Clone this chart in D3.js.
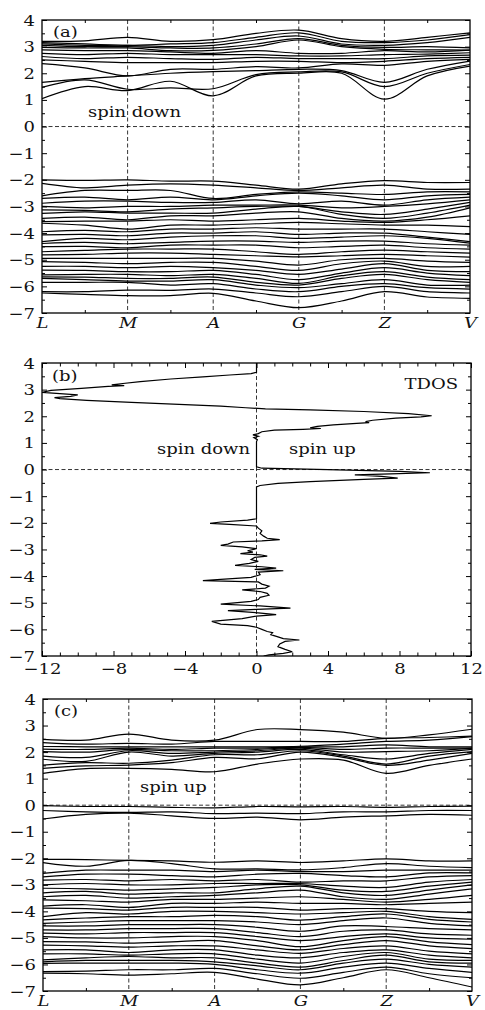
<!DOCTYPE html>
<html>
<head>
<meta charset="utf-8">
<script src="https://cdnjs.cloudflare.com/ajax/libs/d3/7.8.5/d3.min.js"></script>
<style>
  body { margin:0; background:#fff; }
</style>
</head>
<body>
<div id="chart-area"></div>
<script>
/*
*    Band structure (spin down / spin up) and total DOS
*/

// High symmetry points and k-path samples (L, LM, M, MA, A, AG, G, GZ, Z, ZV, V)
var kLabels = ["L", "M", "A", "G", "Z", "V"];
var kPath = [0, 0.5, 1, 1.5, 2, 2.5, 3, 3.5, 4, 4.5, 5];
var energyTicks = [-7, -6, -5, -4, -3, -2, -1, 0, 1, 2, 3, 4];
var dosTicks = [-12, -8, -4, 0, 4, 8, 12];

// (a) spin down, conduction bands (eV)
var downCond = [
  [1.05, 1.5, 1.35, 1.7, 1.15, 1.9, 2.0, 2.0, 1.03, 1.9, 2.27],
  [1.47, 1.75, 1.4, 1.45, 1.42, 1.95, 2.05, 2.05, 1.5, 2.0, 2.33],
  [1.66, 1.8, 1.9, 2.0, 2.06, 2.1, 2.15, 2.1, 1.66, 2.15, 2.46],
  [2.36, 2.2, 1.9, 2.15, 2.15, 2.25, 2.2, 2.35, 2.3, 2.45, 2.52],
  [2.5, 2.45, 2.4, 2.4, 2.4, 2.45, 2.45, 2.4, 2.45, 2.55, 2.6],
  [2.63, 2.55, 2.6, 2.55, 2.52, 2.6, 2.55, 2.55, 2.55, 2.65, 2.68],
  [2.75, 2.7, 2.75, 2.7, 2.7, 2.7, 2.65, 2.65, 2.7, 2.72, 2.77],
  [2.88, 2.85, 2.85, 2.8, 2.75, 2.85, 2.75, 2.75, 2.85, 2.8, 2.87],
  [2.97, 2.95, 2.95, 2.85, 2.86, 3.0, 3.25, 3.0, 2.9, 2.88, 2.87],
  [3.05, 3.0, 3.0, 2.95, 2.95, 3.1, 3.3, 3.05, 2.97, 3.0, 2.95],
  [3.1, 3.05, 3.05, 3.0, 3.05, 3.25, 3.4, 3.1, 3.05, 3.15, 3.35],
  [3.15, 3.1, 3.05, 3.1, 3.15, 3.35, 3.52, 3.2, 3.15, 3.25, 3.45],
  [3.2, 3.22, 3.35, 3.2, 3.26, 3.5, 3.62, 3.3, 3.2, 3.35, 3.52]
];

// (a) spin down, valence bands (eV)
var downVal = [
  [-2.0, -2.02, -2.0, -2.05, -2.05, -2.2, -2.35, -2.15, -2.03, -2.1, -2.1],
  [-2.13, -2.3, -2.2, -2.15, -2.2, -2.3, -2.4, -2.3, -2.2, -2.35, -2.35],
  [-2.6, -2.4, -2.4, -2.4, -2.7, -2.55, -2.45, -2.5, -2.55, -2.45, -2.45],
  [-2.7, -2.65, -2.75, -2.65, -2.75, -2.6, -2.5, -2.6, -2.75, -2.6, -2.55],
  [-2.88, -2.8, -2.8, -2.85, -2.85, -2.75, -2.9, -2.8, -2.95, -2.75, -2.65],
  [-3.0, -3.05, -3.0, -3.0, -2.95, -2.95, -2.95, -3.05, -3.0, -2.9, -2.75],
  [-3.13, -3.15, -3.2, -3.1, -3.05, -3.0, -3.0, -3.2, -3.3, -3.1, -2.85],
  [-3.26, -3.2, -3.25, -3.25, -3.25, -3.1, -3.0, -3.3, -3.45, -3.25, -2.95],
  [-3.45, -3.4, -3.5, -3.35, -3.35, -3.25, -3.2, -3.45, -3.55, -3.4, -3.05],
  [-3.57, -3.55, -3.55, -3.5, -3.55, -3.5, -3.45, -3.55, -3.6, -3.5, -3.35],
  [-3.63, -3.7, -3.85, -3.7, -3.7, -3.65, -3.6, -3.65, -3.7, -3.7, -3.76],
  [-3.95, -3.9, -3.95, -3.85, -3.85, -3.8, -3.85, -3.85, -3.85, -3.95, -4.05],
  [-4.07, -4.05, -4.1, -4.0, -4.0, -3.95, -4.05, -4.0, -4.0, -4.15, -4.32],
  [-4.32, -4.2, -4.25, -4.15, -4.1, -4.1, -4.2, -4.15, -4.1, -4.2, -4.38],
  [-4.39, -4.35, -4.4, -4.35, -4.3, -4.3, -4.35, -4.3, -4.3, -4.4, -4.45],
  [-4.51, -4.5, -4.55, -4.45, -4.45, -4.45, -4.55, -4.5, -4.45, -4.55, -4.6],
  [-4.7, -4.65, -4.6, -4.6, -4.6, -4.7, -4.8, -4.7, -4.64, -4.7, -4.75],
  [-4.82, -4.8, -4.75, -4.75, -4.8, -4.85, -4.89, -4.85, -4.8, -4.85, -4.9],
  [-4.95, -4.95, -4.95, -4.95, -4.95, -5.05, -5.2, -5.0, -4.95, -5.05, -5.1],
  [-5.07, -5.1, -5.15, -5.1, -5.1, -5.25, -5.4, -5.15, -5.05, -5.25, -5.25],
  [-5.25, -5.25, -5.3, -5.25, -5.3, -5.4, -5.55, -5.35, -5.15, -5.4, -5.45],
  [-5.39, -5.4, -5.45, -5.45, -5.4, -5.55, -5.75, -5.5, -5.3, -5.5, -5.6],
  [-5.57, -5.55, -5.55, -5.6, -5.55, -5.7, -5.89, -5.6, -5.45, -5.65, -5.75],
  [-5.64, -5.65, -5.7, -5.7, -5.65, -5.85, -5.95, -5.7, -5.55, -5.75, -5.85],
  [-5.7, -5.75, -5.8, -5.8, -5.75, -5.95, -6.05, -5.9, -5.75, -5.95, -5.95],
  [-5.85, -5.85, -5.85, -5.95, -5.9, -6.1, -6.2, -6.0, -5.9, -6.05, -6.1],
  [-6.2, -6.2, -6.14, -6.15, -6.1, -6.25, -6.39, -6.2, -6.0, -6.2, -6.25],
  [-6.25, -6.3, -6.35, -6.35, -6.26, -6.55, -6.8, -6.55, -6.2, -6.4, -6.45]
];

// (c) spin up, conduction bands (eV)
var upCond = [
  [1.2, 1.38, 1.39, 1.35, 1.26, 1.55, 1.74, 1.7, 1.2, 1.5, 1.74],
  [1.39, 1.48, 1.51, 1.6, 1.8, 1.75, 2.0, 1.8, 1.5, 1.7, 1.95],
  [1.51, 1.6, 1.58, 1.7, 1.9, 1.9, 2.05, 1.85, 1.55, 1.85, 2.02],
  [1.73, 1.65, 2.0, 1.85, 1.95, 2.0, 2.1, 1.9, 1.74, 1.95, 2.1],
  [1.85, 1.8, 2.05, 1.95, 2.0, 2.05, 2.15, 2.0, 2.02, 2.05, 2.15],
  [2.02, 2.0, 2.1, 2.05, 2.05, 2.1, 2.18, 2.1, 2.15, 2.15, 2.15],
  [2.11, 2.1, 2.15, 2.1, 2.15, 2.15, 2.2, 2.2, 2.27, 2.2, 2.2],
  [2.21, 2.2, 2.2, 2.2, 2.2, 2.2, 2.22, 2.3, 2.4, 2.45, 2.58],
  [2.36, 2.3, 2.33, 2.3, 2.4, 2.4, 2.4, 2.4, 2.52, 2.55, 2.6],
  [2.48, 2.45, 2.68, 2.45, 2.45, 2.85, 2.85, 2.75, 2.52, 2.65, 2.86]
];

// (c) spin up, bands just below the Fermi level (eV)
var upNear = [
  [-0.02, -0.05, -0.05, -0.08, -0.1, -0.05, -0.06, -0.05, -0.08, -0.05, -0.04],
  [-0.2, -0.25, -0.27, -0.25, -0.32, -0.3, -0.32, -0.25, -0.25, -0.2, -0.2],
  [-0.52, -0.35, -0.3, -0.4, -0.5, -0.45, -0.55, -0.45, -0.4, -0.35, -0.38]
];

// (c) spin up, valence bands (eV)
var upVal = [
  [-2.04, -2.05, -2.08, -2.1, -2.15, -2.1, -2.16, -2.1, -2.02, -2.1, -2.1],
  [-2.16, -2.3, -2.08, -2.2, -2.4, -2.4, -2.44, -2.35, -2.2, -2.3, -2.35],
  [-2.57, -2.45, -2.45, -2.45, -2.5, -2.45, -2.5, -2.5, -2.45, -2.45, -2.45],
  [-2.7, -2.6, -2.6, -2.65, -2.7, -2.6, -2.57, -2.65, -2.7, -2.55, -2.55],
  [-2.82, -2.8, -2.85, -2.8, -2.85, -2.8, -2.9, -2.85, -2.85, -2.7, -2.65],
  [-3.0, -2.95, -3.0, -3.0, -2.95, -2.95, -2.95, -3.05, -3.1, -2.9, -2.8],
  [-3.13, -3.15, -3.2, -3.15, -3.1, -3.0, -3.0, -3.2, -3.25, -3.05, -2.9],
  [-3.3, -3.25, -3.35, -3.3, -3.3, -3.15, -3.05, -3.3, -3.4, -3.2, -3.0],
  [-3.45, -3.4, -3.5, -3.45, -3.4, -3.3, -3.2, -3.45, -3.55, -3.35, -3.15],
  [-3.57, -3.6, -3.65, -3.55, -3.55, -3.5, -3.45, -3.55, -3.65, -3.55, -3.4],
  [-3.8, -3.75, -3.85, -3.7, -3.7, -3.65, -3.7, -3.7, -3.75, -3.7, -3.65],
  [-3.88, -3.9, -3.95, -3.85, -3.85, -3.85, -3.95, -3.9, -3.9, -4.0, -4.05],
  [-4.2, -4.05, -4.1, -4.0, -4.0, -4.05, -4.1, -4.05, -4.0, -4.2, -4.3],
  [-4.32, -4.25, -4.2, -4.2, -4.15, -4.2, -4.33, -4.2, -4.1, -4.3, -4.4],
  [-4.45, -4.4, -4.35, -4.35, -4.35, -4.4, -4.5, -4.35, -4.25, -4.45, -4.55],
  [-4.55, -4.55, -4.5, -4.5, -4.5, -4.6, -4.75, -4.55, -4.57, -4.65, -4.7],
  [-4.7, -4.7, -4.65, -4.65, -4.65, -4.8, -4.95, -4.75, -4.7, -4.85, -4.9],
  [-4.82, -4.85, -4.8, -4.8, -4.8, -4.95, -5.1, -4.95, -4.85, -5.0, -5.05],
  [-4.95, -5.0, -5.0, -4.95, -4.95, -5.1, -5.33, -5.1, -4.95, -5.15, -5.25],
  [-5.14, -5.15, -5.2, -5.15, -5.1, -5.3, -5.45, -5.25, -5.1, -5.3, -5.4],
  [-5.27, -5.3, -5.35, -5.3, -5.3, -5.45, -5.58, -5.4, -5.3, -5.5, -5.6],
  [-5.45, -5.45, -5.55, -5.45, -5.45, -5.65, -5.75, -5.55, -5.45, -5.65, -5.75],
  [-5.6, -5.6, -5.65, -5.6, -5.6, -5.8, -5.95, -5.7, -5.55, -5.8, -5.85],
  [-5.83, -5.75, -5.7, -5.75, -5.75, -5.95, -6.1, -5.85, -5.65, -5.9, -5.95],
  [-5.9, -5.85, -5.85, -5.85, -5.9, -6.05, -6.2, -5.95, -5.8, -6.0, -6.1],
  [-5.96, -5.95, -5.95, -5.95, -6.0, -6.2, -6.33, -6.1, -5.95, -6.15, -6.3],
  [-6.27, -6.25, -6.2, -6.2, -6.15, -6.35, -6.52, -6.3, -6.1, -6.35, -6.5],
  [-6.33, -6.35, -6.4, -6.35, -6.3, -6.55, -6.77, -6.5, -6.2, -6.5, -6.85]
];

// (b) total DOS: energy (eV) and DOS (spin down < 0, spin up > 0)
var tdosE = [4.0, 3.65, 3.6, 3.55, 3.48, 3.4, 3.3, 3.22, 3.18, 3.15, 3.12, 3.05, 2.97, 2.9, 2.85,
  2.8, 2.75, 2.7, 2.66, 2.6, 2.52, 2.44, 2.38, 2.32, 2.28, 2.24, 2.18, 2.1, 2.02, 1.98, 1.93,
  1.85, 1.8, 1.76, 1.73, 1.68, 1.62, 1.57, 1.54, 1.51, 1.48, 1.42, 1.35, 1.3, 1.25, 1.2, 1.12,
  1.05, 0.1, 0.05, 0.0, -0.07, -0.12, -0.16, -0.2, -0.26, -0.32, -0.37, -0.45, -0.52, -0.6,
  -0.65, -1.85, -1.9, -1.97, -2.02, -2.06, -2.12, -2.2, -2.3, -2.4, -2.5, -2.58, -2.63, -2.68,
  -2.72, -2.8, -2.85, -2.9, -2.97, -3.05, -3.1, -3.16, -3.2, -3.25, -3.3, -3.38, -3.45, -3.52,
  -3.6, -3.65, -3.7, -3.75, -3.8, -3.85, -3.95, -4.05, -4.12, -4.17, -4.22, -4.3, -4.38, -4.45,
  -4.52, -4.58, -4.65, -4.72, -4.8, -4.88, -4.95, -5.05, -5.12, -5.2, -5.25, -5.3, -5.38, -5.45,
  -5.5, -5.6, -5.7, -5.8, -5.86, -5.92, -6.0, -6.08, -6.12, -6.2, -6.28, -6.35, -6.4, -6.45,
  -6.55, -6.65, -6.75, -6.84, -6.9, -6.96, -7.0];
var tdosVal = [0, 0, -0.3, -1.5, -3.0, -4.8, -6.5, -7.6, -8.1, -7.4, -8.3, -9.8, -11.5, -12.0, -11.0,
  -10.0, -10.4, -11.3, -11.0, -9.5, -7.0, -4.0, -2.0, -0.6, 0.5, 3.0, 6.0, 8.5, 9.8, 9.2, 7.8,
  6.5, 6.1, 6.3, 5.6, 4.3, 3.4, 3.0, 3.6, 2.6, 1.0, 0.3, 0.1, -0.2, 0.1, -0.15, 0.05,
  0, 0, 0.3, 4.0, 8.0, 9.7, 7.5, 5.5, 7.0, 7.9, 6.0, 3.0, 1.2, 0.2,
  0, 0, -0.5, -2.0, -2.6, -1.5, 0, 0.1, 0.3, 0.2, 0.4, 0.6, 1.3, 0.3,
  -1.3, -1.6, -2.0, -0.8, 0, -0.5, -0.2, -0.9, 0.2, 0.6, -0.1, -0.3, 0.1, -0.4,
  -1.2, 0.3, 1.1, -0.1, 1.5, 0.1, 0.2, -0.3, -2.0, -3.0, 0.1, 0.3, 0.7, 0.5,
  -0.8, 0.2, 0.6, 0.7, 0.2, 0.1, -0.3, -2.0, 0.2, 1.9, 0, -1.6, 0.1, 1.1,
  0, -0.8, -2.5, -2.0, -0.5, 0, 0.3, 0.6, 0.9, 0.8, 1.2, 1.5, 2.4, 1.6,
  1.3, 1.2, 1.6, 2.0, 1.5, 0.7, 0.4];

// Panel boxes
var panelA = { left:42, right:470, top:20, bottom:313 };
var panelB = { left:42, right:471, top:363, bottom:656 };
var panelC = { left:43, right:472, top:699, bottom:991 };

var fontFamily = "'DejaVu Serif', serif";
var stretch = 1.2;

// Add the SVG canvas
var svg = d3.select("#chart-area").append("svg")
  .attr("width", 485)
  .attr("height", 1010);

// Text helper (wide serif look)
function addLabel(parent, x, y, str, anchor, italic) {
  parent.append("g")
    .attr("transform", "translate(" + x + "," + y + ") scale(" + stretch + ",1)")
    .append("text")
      .attr("text-anchor", anchor || "start")
      .attr("font-family", fontFamily)
      .attr("font-size", "15px")
      .attr("font-style", italic ? "italic" : "normal")
      .attr("fill", "#111")
      .text(str);
}

// Axis styling: inward ticks, no domain, stretched labels
function styleAxis(g, labelShift) {
  g.select(".domain").remove();
  g.selectAll(".tick line").attr("stroke", "#000").attr("stroke-width", 1);
  g.selectAll("text")
    .attr("x", null).attr("y", null).attr("dy", null)
    .attr("font-family", fontFamily)
    .attr("font-size", "15px")
    .attr("fill", "#111");
  if (labelShift) {
    g.selectAll("text").attr("transform", labelShift);
  }
}

function energyAxes(g, y, p) {
  var minorE = d3.range(-6.5, 4, 1);
  // Left axis with labels
  var left = g.append("g")
    .attr("transform", "translate(" + p.left + ",0)")
    .call(d3.axisLeft(y).tickValues(energyTicks).tickSizeInner(-5).tickSizeOuter(0)
      .tickFormat(d3.format("d")));
  styleAxis(left, "translate(-7,5) scale(" + stretch + ",1)");
  left.selectAll("text").attr("text-anchor", "end");
  g.append("g")
    .attr("transform", "translate(" + p.left + ",0)")
    .call(d3.axisLeft(y).tickValues(minorE).tickSizeInner(-3).tickSizeOuter(0).tickFormat(""))
    .call(styleAxis);
  // Right axis ticks
  g.append("g")
    .attr("transform", "translate(" + p.right + ",0)")
    .call(d3.axisRight(y).tickValues(energyTicks).tickSizeInner(-5).tickSizeOuter(0).tickFormat(""))
    .call(styleAxis);
  g.append("g")
    .attr("transform", "translate(" + p.right + ",0)")
    .call(d3.axisRight(y).tickValues(minorE).tickSizeInner(-3).tickSizeOuter(0).tickFormat(""))
    .call(styleAxis);
}

function dashed(g, x1, y1, x2, y2) {
  g.append("line")
    .attr("x1", x1).attr("y1", y1)
    .attr("x2", x2).attr("y2", y2)
    .attr("stroke", "#000")
    .attr("stroke-width", 0.8)
    .attr("stroke-dasharray", "4,2.5");
}

function frame(g, p) {
  g.append("rect")
    .attr("x", p.left).attr("y", p.top)
    .attr("width", p.right - p.left)
    .attr("height", p.bottom - p.top)
    .attr("fill", "none")
    .attr("stroke", "#000")
    .attr("stroke-width", 1.3);
}

function clipFor(id, p) {
  svg.append("clipPath").attr("id", id)
    .append("rect")
      .attr("x", p.left).attr("y", p.top)
      .attr("width", p.right - p.left)
      .attr("height", p.bottom - p.top);
  return "url(#" + id + ")";
}

// Band structure panel
function bandPanel(p, groups, tag, spinText, spinX, spinY, id) {
  var g = svg.append("g");
  var x = d3.scaleLinear().domain([0, 5]).range([p.left, p.right]);
  var y = d3.scaleLinear().domain([-7, 4]).range([p.bottom, p.top]);

  // Dashed guides
  [1, 2, 3, 4].forEach(function(k) { dashed(g, x(k), p.top, x(k), p.bottom); });
  dashed(g, p.left, y(0), p.right, y(0));

  // Bands
  var line = d3.line()
    .x(function(d, i) { return x(kPath[i]); })
    .y(function(d) { return y(d); })
    .curve(d3.curveCatmullRom.alpha(0.5));

  var bands = [].concat.apply([], groups);
  g.append("g")
    .attr("clip-path", clipFor(id, p))
    .selectAll("path")
    .data(bands)
    .enter()
    .append("path")
      .attr("d", line)
      .attr("fill", "none")
      .attr("stroke", "#000")
      .attr("stroke-width", 1.2);

  // Axes
  energyAxes(g, y, p);
  var minorK = [0.5, 1.5, 2.5, 3.5, 4.5];
  g.append("g")
    .attr("transform", "translate(0," + p.bottom + ")")
    .call(d3.axisBottom(x).tickValues(minorK).tickSizeInner(-3).tickSizeOuter(0).tickFormat(""))
    .call(styleAxis);
  g.append("g")
    .attr("transform", "translate(0," + p.top + ")")
    .call(d3.axisTop(x).tickValues(minorK).tickSizeInner(-3).tickSizeOuter(0).tickFormat(""))
    .call(styleAxis);
  var kAxis = g.append("g")
    .attr("transform", "translate(0," + p.bottom + ")")
    .call(d3.axisBottom(x).tickValues([0, 1, 2, 3, 4, 5]).tickSize(0)
      .tickFormat(function(d) { return kLabels[d]; }));
  styleAxis(kAxis, "translate(0,15) scale(" + stretch + ",1)");
  kAxis.selectAll("text").attr("font-style", "italic").attr("text-anchor", "middle");

  frame(g, p);
  addLabel(g, p.left + 11, p.top + 17, tag);
  addLabel(g, spinX, spinY, spinText);
}

bandPanel(panelA, [downCond, downVal], "(a)", "spin down", 88, 117, "clipA");
bandPanel(panelC, [upCond, upNear, upVal], "(c)", "spin up", 140, 792, "clipC");

// TDOS panel
var gb = svg.append("g");
var xb = d3.scaleLinear().domain([-12, 12]).range([panelB.left, panelB.right]);
var yb = d3.scaleLinear().domain([-7, 4]).range([panelB.bottom, panelB.top]);

dashed(gb, xb(0), panelB.top, xb(0), panelB.bottom);
dashed(gb, panelB.left, yb(0), panelB.right, yb(0));

var tdos = tdosE.map(function(e, i) { return { e:e, dos:tdosVal[i] }; });
var dosLine = d3.line()
  .x(function(d) { return xb(d.dos); })
  .y(function(d) { return yb(d.e); });

gb.append("path")
  .datum(tdos)
  .attr("clip-path", clipFor("clipB", panelB))
  .attr("d", dosLine)
  .attr("fill", "none")
  .attr("stroke", "#000")
  .attr("stroke-width", 1.2);

energyAxes(gb, yb, panelB);
var minorDos = d3.range(-11, 12, 1).filter(function(d) { return d % 4 !== 0; });
var xbAxis = gb.append("g")
  .attr("transform", "translate(0," + panelB.bottom + ")")
  .call(d3.axisBottom(xb).tickValues(dosTicks).tickSizeInner(-5).tickSizeOuter(0)
    .tickFormat(d3.format("d")));
styleAxis(xbAxis, "translate(0,18) scale(" + stretch + ",1)");
xbAxis.selectAll("text").attr("text-anchor", "middle");
gb.append("g")
  .attr("transform", "translate(0," + panelB.bottom + ")")
  .call(d3.axisBottom(xb).tickValues(minorDos).tickSizeInner(-3.5).tickSizeOuter(0).tickFormat(""))
  .call(styleAxis);
gb.append("g")
  .attr("transform", "translate(0," + panelB.top + ")")
  .call(d3.axisTop(xb).tickValues(dosTicks).tickSizeInner(-5).tickSizeOuter(0).tickFormat(""))
  .call(styleAxis);
gb.append("g")
  .attr("transform", "translate(0," + panelB.top + ")")
  .call(d3.axisTop(xb).tickValues(minorDos).tickSizeInner(-3.5).tickSizeOuter(0).tickFormat(""))
  .call(styleAxis);

frame(gb, panelB);
addLabel(gb, panelB.left + 10, panelB.top + 18, "(b)");
addLabel(gb, 458, 389, "TDOS", "end");
addLabel(gb, 250, 454, "spin down", "end");
addLabel(gb, 289, 454, "spin up", "start");
</script>
</body>
</html>
